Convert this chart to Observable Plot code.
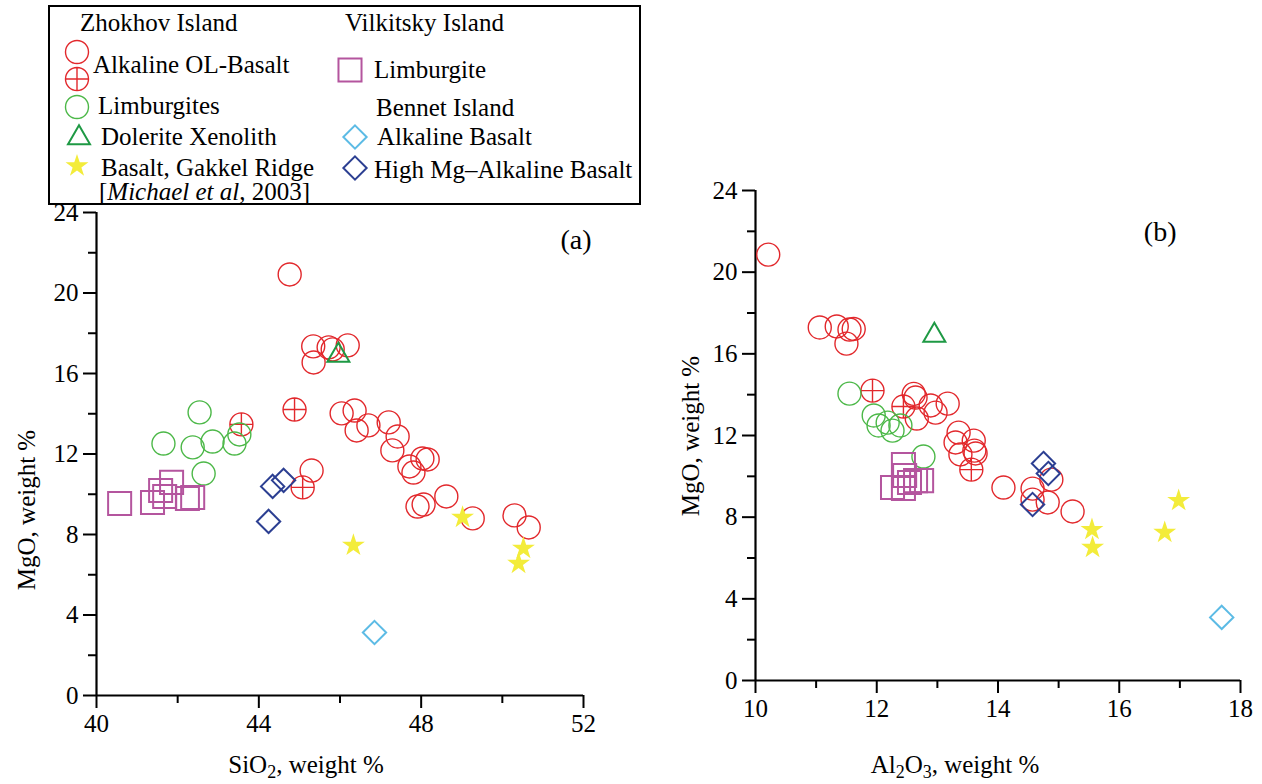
<!DOCTYPE html>
<html>
<head>
<meta charset="utf-8">
<script src="https://cdn.jsdelivr.net/npm/d3@7"></script>
<script src="https://cdn.jsdelivr.net/npm/@observablehq/plot@0.6"></script>
<style>
  body { margin: 0; background: #fff; }
  #fig { position: relative; width: 1262px; height: 784px; overflow: hidden;
         font-family: "Liberation Serif", "Times New Roman", serif; color: #000; background: #fff; }
  .panel { position: absolute; }
  .title { position: absolute; font-size: 25px; white-space: nowrap; line-height: 1;
           transform: translate(-50%, -50%); }
  .title sub { font-size: 0.72em; vertical-align: -0.3em; line-height: 0; }
  .title.rot { transform: translate(-50%, -50%) rotate(-90deg); }
  #legend text { font-family: "Liberation Serif", "Times New Roman", serif; font-size: 25px; fill: #000; }
</style>
</head>
<body>
<div id="fig"></div>
<script>
// ---- Panel (a): SiO2 vs MgO, weight % ----
const zhokhovOlBasaltA = [[44.76,20.92],[45.34,17.35],[45.72,17.3],[45.82,17.2],[46.19,17.4],[45.35,16.55],[45.3,11.18],
  [46.04,14.02],[46.36,14.16],[46.41,13.17],[46.7,13.42],[47.2,13.57],[47.42,12.87],[47.29,12.18],[47.71,11.38],
  [47.81,11.08],[48.03,11.78],[48.16,11.73],[47.91,9.39],[48.06,9.49],[48.62,9.89],[49.27,8.8],[50.3,8.95],[50.65,8.35]];
const zhokhovOlBasaltCrossA = [[44.88,14.21],[43.57,13.47],[45.08,10.34]];
const zhokhovLimburgitesA = [[42.54,14.07],[41.65,12.52],[42.37,12.33],[42.86,12.62],[43.52,12.97],[43.4,12.52],[42.64,11.03]];
const zhokhovXenolithA = [[45.96,16.9]];
const vilkitskyLimburgiteA = [[40.57,9.54],[41.38,9.59],[41.58,10.19],[41.68,9.89],[41.85,10.59],[42.24,9.79],[42.37,9.84]];
const bennetAlkalineA = [[46.85,3.13]];
const bennetHighMgA = [[44.24,8.65],[44.34,10.39],[44.61,10.69]];
const gakkelBasaltA = [[46.33,7.46],[49.02,8.85],[50.52,7.31],[50.4,6.56]];

// ---- Panel (b): Al2O3 vs MgO, weight % ----
const zhokhovOlBasaltB = [[10.21,20.86],[11.06,17.29],[11.34,17.34],[11.55,17.19],[11.62,17.22],[11.5,16.5],
  [12.61,14.04],[12.64,13.86],[12.66,12.83],[12.89,13.47],[12.97,13.12],[13.17,13.56],[13.35,12.14],[13.3,11.66],
  [13.6,11.75],[13.38,11.07],[13.61,11.26],[13.63,11.12],[14.09,9.45],[14.57,9.4],[14.57,8.86],[14.88,9.84],
  [14.82,8.72],[15.23,8.28]];
const zhokhovOlBasaltCrossB = [[11.93,14.2],[12.44,13.42],[13.56,10.33]];
const zhokhovLimburgitesB = [[11.55,14.05],[11.95,12.98],[12.03,12.49],[12.18,12.63],[12.26,12.24],[12.39,12.49],[12.77,10.97]];
const zhokhovXenolithB = [[12.95,16.9]];
const vilkitskyLimburgiteB = [[12.26,9.45],[12.44,10.58],[12.46,10.04],[12.44,9.4],[12.54,9.7],[12.64,9.79],[12.74,9.79]];
const bennetAlkalineB = [[17.69,3.09]];
const bennetHighMgB = [[14.75,10.63],[14.83,10.14],[14.57,8.62]];
const gakkelBasaltB = [[15.55,7.39],[15.56,6.51],[16.98,8.81],[16.75,7.25]];

// ---- Axis ticks ----
const yMajorTicks = [0, 4, 8, 12, 16, 20, 24];
const yMinorTicks = [2, 6, 10, 14, 18, 22];
const xMajorTicksA = [40, 44, 48, 52];
const xMinorTicksA = [42, 46, 50];
const xMajorTicksB = [10, 12, 14, 16, 18];
const xMinorTicksB = [11, 13, 15, 17];

// ---- Legend text ----
const legendHeaders = ["Zhokhov Island", "Vilkitsky Island", "Bennet Island"];
const legendLabels = ["Alkaline OL-Basalt", "Limburgites", "Dolerite Xenolith", "Basalt, Gakkel Ridge",
  "Limburgite", "Alkaline Basalt", "High Mg\u2013Alkaline Basalt"];

// circle with a cross inside (Alkaline OL-Basalt, second variety)
const crossedCircle = {
  draw(context, size) {
    const r = Math.sqrt(size / Math.PI);
    context.moveTo(r, 0);
    context.arc(0, 0, r, 0, 2 * Math.PI);
    context.moveTo(-r, 0); context.lineTo(r, 0);
    context.moveTo(0, -r); context.lineTo(0, r);
  }
};

const styles = {
  olBasalt:   {symbol: "circle",   r: 11.5, stroke: "#e2282c", fill: "none", strokeWidth: 1.4},
  olCross:    {symbol: crossedCircle, r: 11.5, stroke: "#e2282c", fill: "none", strokeWidth: 1.4},
  limburgites:{symbol: "circle",   r: 11.5, stroke: "#4cb848", fill: "none", strokeWidth: 1.4},
  xenolith:   {symbol: "triangle2",r: 10.5, stroke: "#1e9944", fill: "none", strokeWidth: 2},
  vilkitsky:  {symbol: "square",   r: 13,   stroke: "#b4559e", fill: "none", strokeWidth: 2},
  bennetAlk:  {symbol: "diamond2", r: 10.5, stroke: "#5cbbe5", fill: "none", strokeWidth: 2},
  bennetHigh: {symbol: "diamond2", r: 10.5, stroke: "#2c3f92", fill: "none", strokeWidth: 2},
  gakkel:     {symbol: "star",     r: 7.2,  stroke: "none",    fill: "#f3ec3a", strokeWidth: 0}
};

function series(data, key) {
  const s = styles[key];
  return Plot.dot(data, {x: d => d[0], y: d => d[1], symbol: s.symbol, r: s.r,
    stroke: s.stroke, fill: s.fill, strokeWidth: s.strokeWidth});
}

function panel({xDomain, xMajor, xMinor, groups, tag, tagDx, tagDy, width, height, margin}) {
  return Plot.plot({
    width, height,
    marginLeft: margin[3], marginRight: margin[1], marginTop: margin[0], marginBottom: margin[2],
    x: {domain: xDomain},
    y: {domain: [0, 24]},
    style: {fontFamily: "'Liberation Serif', 'Times New Roman', serif", fontSize: "25px",
            background: "transparent", overflow: "visible", color: "black"},
    marks: [
      Plot.axisX({ticks: xMajor, tickSize: 13, tickPadding: 6, strokeWidth: 2, label: null, tickFormat: d => String(d)}),
      Plot.axisX({ticks: xMinor, tickSize: 8, strokeWidth: 2, label: null, tickFormat: () => ""}),
      Plot.axisY({ticks: yMajorTicks, tickSize: 13, tickPadding: 5, strokeWidth: 2, label: null, tickFormat: d => String(d)}),
      Plot.axisY({ticks: yMinorTicks, tickSize: 8, strokeWidth: 2, label: null, tickFormat: () => ""}),
      Plot.ruleY([0], {strokeWidth: 2.2}),
      Plot.ruleX([xDomain[0]], {strokeWidth: 2.2}),
      ...groups.map(([data, key]) => series(data, key)),
      Plot.text([tag], {frameAnchor: "top-right", dx: tagDx, dy: tagDy, textAnchor: "end",
                        lineAnchor: "middle", fontSize: 28})
    ]
  });
}

const fig = document.getElementById("fig");

const plotA = panel({
  xDomain: [40, 52], xMajor: xMajorTicksA, xMinor: xMinorTicksA,
  groups: [[zhokhovOlBasaltA, "olBasalt"], [zhokhovOlBasaltCrossA, "olCross"], [zhokhovLimburgitesA, "limburgites"],
           [vilkitskyLimburgiteA, "vilkitsky"], [zhokhovXenolithA, "xenolith"], [bennetAlkalineA, "bennetAlk"],
           [bennetHighMgA, "bennetHigh"], [gakkelBasaltA, "gakkel"]],
  tag: "(a)", tagDx: 8, tagDy: 28,
  width: 620, height: 604, margin: [32, 37, 89, 96]
});
plotA.classList.add("panel");
plotA.style.left = "0px"; plotA.style.top = "180px";
fig.appendChild(plotA);

const plotB = panel({
  xDomain: [10, 18], xMajor: xMajorTicksB, xMinor: xMinorTicksB,
  groups: [[zhokhovOlBasaltB, "olBasalt"], [zhokhovOlBasaltCrossB, "olCross"], [zhokhovLimburgitesB, "limburgites"],
           [vilkitskyLimburgiteB, "vilkitsky"], [zhokhovXenolithB, "xenolith"], [bennetAlkalineB, "bennetAlk"],
           [bennetHighMgB, "bennetHigh"], [gakkelBasaltB, "gakkel"]],
  tag: "(b)", tagDx: -64, tagDy: 42,
  width: 622, height: 624, margin: [30, 22, 104, 115]
});
plotB.classList.add("panel");
plotB.style.left = "640px"; plotB.style.top = "160px";
fig.appendChild(plotB);

// ---- Axis titles ----
function title(html, x, y, rot) {
  const d = document.createElement("div");
  d.className = "title" + (rot ? " rot" : "");
  d.innerHTML = html;
  d.style.left = x + "px"; d.style.top = y + "px";
  fig.appendChild(d);
}
title("SiO<sub>2</sub>, weight %", 306, 764, false);
title("Al<sub>2</sub>O<sub>3</sub>, weight %", 955, 764, false);
title("MgO, weight %", 26, 510, true);
title("MgO, weight %", 690, 436, true);

// ---- Legend box ----
const leg = d3.select(fig).append("svg")
  .attr("id", "legend")
  .attr("width", 650).attr("height", 212)
  .style("position", "absolute").style("left", "0px").style("top", "0px");
leg.append("rect").attr("x", 49).attr("y", 6).attr("width", 591).attr("height", 198)
  .attr("fill", "white").attr("stroke", "black").attr("stroke-width", 2);

const symbolTypes = {circle: d3.symbolCircle, square: d3.symbolSquare, triangle2: d3.symbolTriangle2,
                     diamond2: d3.symbolDiamond2, star: d3.symbolStar};
const symbolPath = (key) => {
  const s = styles[key];
  const sym = typeof s.symbol === "string" ? symbolTypes[s.symbol] : s.symbol;
  return d3.symbol(sym, Math.PI * s.r * s.r)();
};
const legendSymbols = [
  ["olBasalt", 77, 52], ["olCross", 77, 79], ["limburgites", 77, 107], ["xenolith", 79, 138], ["gakkel", 77, 166],
  ["vilkitsky", 350, 70], ["bennetAlk", 355, 137], ["bennetHigh", 355, 168]
];
legendSymbols.forEach(([key, x, y]) => {
  const s = styles[key];
  leg.append("path").attr("d", symbolPath(key)).attr("transform", `translate(${x},${y})`)
    .attr("fill", s.fill).attr("stroke", s.stroke).attr("stroke-width", s.strokeWidth);
});

const legendText = [
  [legendHeaders[0], 80, 23], [legendLabels[0], 93, 65], [legendLabels[1], 98, 106], [legendLabels[2], 101, 137],
  [legendLabels[3], 101, 168],
  [legendHeaders[1], 345, 23], [legendLabels[4], 374, 70], [legendHeaders[2], 376, 108],
  [legendLabels[5], 377, 137], [legendLabels[6], 374, 170]
];
legendText.forEach(([t, x, y]) => {
  leg.append("text").attr("x", x).attr("y", y + 8).text(t);
});
const cite = leg.append("text").attr("x", 99).attr("y", 192 + 8);
cite.append("tspan").text("[");
cite.append("tspan").attr("font-style", "italic").text("Michael et al");
cite.append("tspan").text(", 2003]");
</script>
</body>
</html>
